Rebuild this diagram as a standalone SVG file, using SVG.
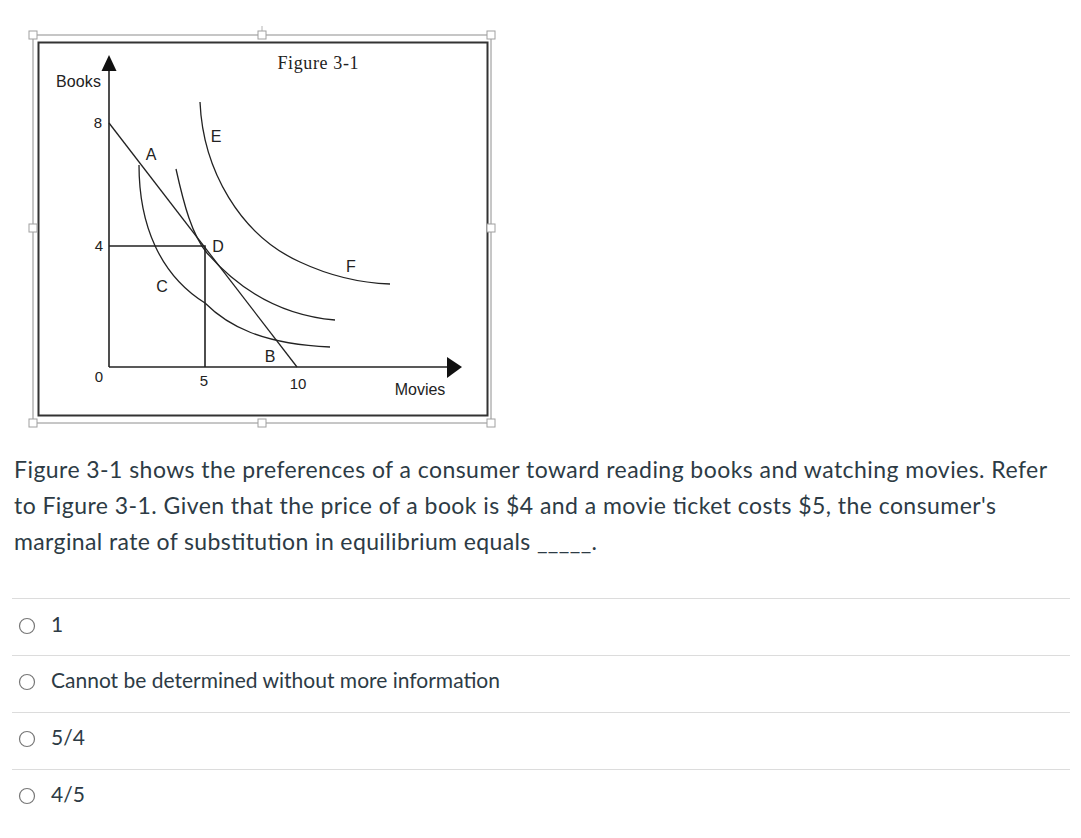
<svg xmlns="http://www.w3.org/2000/svg" width="1081" height="838" viewBox="0 0 1081 838">
<style>
.handle{fill:#fff;stroke:#a0a0a0;stroke-width:1}
.sel{fill:none;stroke:#b4b4b4;stroke-width:1.5}
.crv{fill:none;stroke:#222;stroke-width:1.3}
.ax{fill:none;stroke:#222;stroke-width:1.6}
.lbl{font-family:"Liberation Sans",Arial,sans-serif;fill:#222}
.q{font-family:Lato,"Liberation Sans",sans-serif;fill:#2d3b45}
.sep{stroke:#dcdcdc;stroke-width:1}
.radio{fill:#fff;stroke:#777;stroke-width:1.2}
</style>
<rect width="1081" height="838" fill="#fff"/>
<g id="figure">
  <rect class="sel" x="33" y="35" width="458" height="388"/>
  <line x1="262" y1="26" x2="262" y2="35" stroke="#b4b4b4" stroke-width="1"/>
  <rect x="38.5" y="42.5" width="449" height="373" fill="none" stroke="#333" stroke-width="2"/>
  <g id="handles">
    <rect class="handle" x="29" y="31" width="8" height="8"/>
    <rect class="handle" x="258" y="31" width="8" height="8"/>
    <rect class="handle" x="487" y="31" width="8" height="8"/>
    <rect class="handle" x="29" y="224" width="8" height="8"/>
    <rect class="handle" x="487" y="224" width="8" height="8"/>
    <rect class="handle" x="29" y="419" width="8" height="8"/>
    <rect class="handle" x="258" y="419" width="8" height="8"/>
    <rect class="handle" x="487" y="419" width="8" height="8"/>
  </g>
  <text class="lbl" x="318" y="69" style="font-family:'Liberation Serif','Times New Roman',serif;font-size:18px" text-anchor="middle" textLength="81">Figure 3-1</text>
  <g id="axes">
    <line class="ax" x1="109" y1="367" x2="109" y2="68"/>
    <polygon points="109,55 101.5,71 116.5,71" fill="#111"/>
    <line class="ax" x1="109" y1="367" x2="449" y2="367"/>
    <polygon points="462,367 447,357 447,378" fill="#111"/>
  </g>
  <text class="lbl" x="56" y="87" style="font-size:16px" textLength="45">Books</text>
  <g id="ticks" class="lbl" style="font-size:15px">
    <text x="98" y="128" text-anchor="middle">8</text>
    <text x="99" y="251" text-anchor="middle">4</text>
    <text x="99" y="382" text-anchor="middle">0</text>
    <text x="204" y="386" text-anchor="middle">5</text>
    <text x="298" y="389" text-anchor="middle">10</text>
  </g>
  <text class="lbl" x="420" y="395" style="font-size:16px" text-anchor="middle">Movies</text>
</g>
<g id="connectors">
  <line id="budget" class="crv" x1="109" y1="123" x2="297" y2="367"/>
  <polyline id="guide" class="ax" points="109,246 205,246 205,367"/>
  <path id="ic1" class="crv" d="M139,165 C139,225 160,275 205,303 C228,326 262,344 330,347"/>
  <path id="ic2" class="crv" d="M176,169 C184,205 192,235 207,253 C235,285 275,315 335,320"/>
  <path id="ic3" class="crv" d="M200,102 C203,170 240,235 300,262 C330,276 360,283 390,284"/>
</g>
<g id="points" class="lbl" style="font-size:16px" text-anchor="middle">
  <text id="pA" x="151" y="160">A</text>
  <text id="pE" x="216" y="142">E</text>
  <text id="pD" x="218" y="252">D</text>
  <text id="pC" x="162" y="292">C</text>
  <text id="pF" x="351" y="272">F</text>
  <text id="pB" x="270" y="362">B</text>
</g>
<g id="question" class="q" style="font-size:23px">
  <text x="14" y="478" textLength="1033">Figure 3-1 shows the preferences of a consumer toward reading books and watching movies. Refer</text>
  <text x="14" y="514" textLength="982">to Figure 3-1. Given that the price of a book is $4 and a movie ticket costs $5, the consumer's</text>
  <text x="14" y="550" textLength="583">marginal rate of substitution in equilibrium equals _____.</text>
</g>
<g id="options">
  <line class="sep" x1="12" y1="598.5" x2="1070" y2="598.5"/>
  <line class="sep" x1="12" y1="655.5" x2="1070" y2="655.5"/>
  <line class="sep" x1="12" y1="712.5" x2="1070" y2="712.5"/>
  <line class="sep" x1="12" y1="769.5" x2="1070" y2="769.5"/>
  <g id="opt1"><circle class="radio" cx="27" cy="626" r="7.5"/><text class="q" x="51" y="632" style="font-size:21px">1</text></g>
  <g id="opt2"><circle class="radio" cx="27" cy="682" r="7.5"/><text class="q" x="51" y="688" style="font-size:21px">Cannot be determined without more information</text></g>
  <g id="opt3"><circle class="radio" cx="27" cy="739" r="7.5"/><text class="q" x="51" y="745" style="font-size:21px">5/4</text></g>
  <g id="opt4"><circle class="radio" cx="27" cy="796" r="7.5"/><text class="q" x="51" y="802" style="font-size:21px">4/5</text></g>
</g>
</svg>
